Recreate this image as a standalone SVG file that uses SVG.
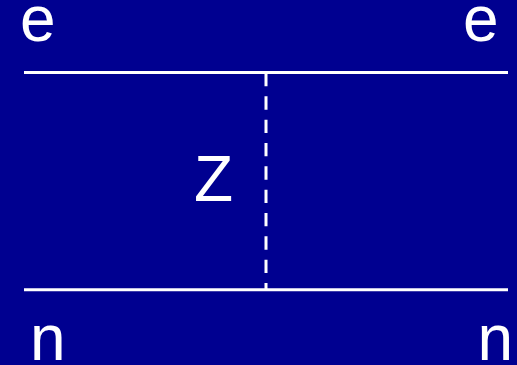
<svg xmlns="http://www.w3.org/2000/svg" width="517" height="365" viewBox="0 0 517 365">
<style>
.lbl{font-family:"Liberation Sans",Arial,sans-serif;font-size:64px;fill:#ffffff}
.ln{stroke:#ffffff;stroke-width:3;fill:none}
</style>
<rect width="517" height="365" fill="#000090"/>
<g id="connectors">
<line class="ln" x1="24" y1="72.5" x2="508" y2="72.5"/>
<line class="ln" x1="24" y1="289.8" x2="508" y2="289.8"/>
<line class="ln" x1="266" y1="73" x2="266" y2="289" stroke-dasharray="13.33 10"/>
</g>
<g id="e-left"><text class="lbl" x="20" y="41">e</text></g>
<g id="e-right"><text class="lbl" x="463" y="41">e</text></g>
<g id="z"><text class="lbl" x="194" y="201">Z</text></g>
<g id="n-left"><text class="lbl" x="30" y="360">n</text></g>
<g id="n-right"><text class="lbl" x="477.5" y="360">n</text></g>
</svg>
